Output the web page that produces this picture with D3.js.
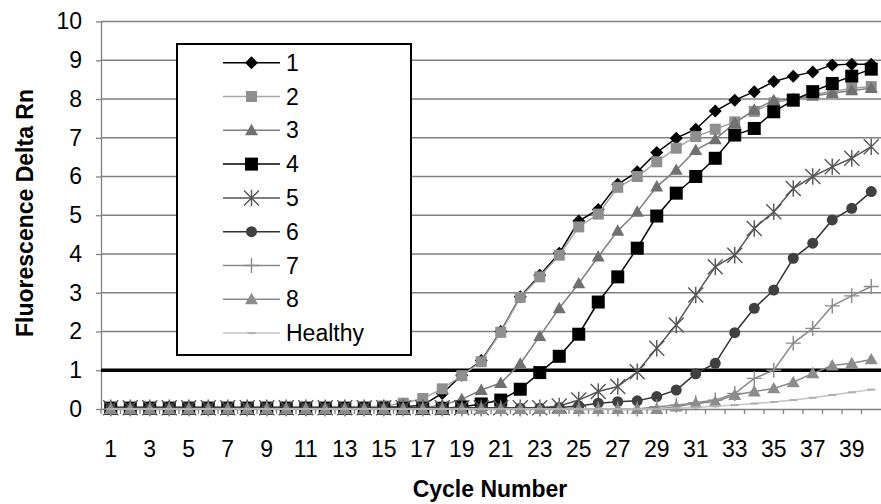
<!DOCTYPE html>
<html>
<head>
<meta charset="utf-8">
<script src="https://cdn.jsdelivr.net/npm/d3@7"></script>
<style>
  body { margin: 0; background: #fff; }
  svg { display: block; font-family: "Liberation Sans", Arial, sans-serif; }
</style>
</head>
<body>
<svg id="chart" width="881" height="504"></svg>
<script>
// cycle numbers on the x axis
var cycles = [1,2,3,4,5,6,7,8,9,10,11,12,13,14,15,16,17,18,19,20,
              21,22,23,24,25,26,27,28,29,30,31,32,33,34,35,36,37,38,39,40];

var yTicks = [0,1,2,3,4,5,6,7,8,9,10];
var threshold = 1;

// fluorescence values, cycles 1..40
var s1 = [0.05,0.05,0.05,0.05,0.05,0.05,0.05,0.05,0.05,0.05,0.05,0.05,0.05,0.05,0.05,0.05,0.1,0.4,0.87,1.25,
          2.0,2.9,3.45,4.02,4.85,5.15,5.8,6.12,6.62,6.99,7.22,7.69,7.97,8.19,8.45,8.59,8.7,8.88,8.9,8.9];
var s2 = [0.05,0.05,0.05,0.05,0.05,0.05,0.05,0.05,0.05,0.05,0.05,0.05,0.05,0.05,0.08,0.15,0.27,0.52,0.86,1.22,
          1.98,2.88,3.41,3.97,4.7,5.03,5.72,6.0,6.38,6.73,7.03,7.22,7.41,7.68,7.9,8.0,8.12,8.19,8.28,8.32];
var s3 = [0.04,0.04,0.04,0.04,0.04,0.04,0.04,0.04,0.04,0.04,0.04,0.04,0.04,0.04,0.04,0.04,0.04,0.1,0.25,0.49,
          0.67,1.17,1.88,2.6,3.24,3.93,4.6,5.09,5.74,6.17,6.68,6.96,7.38,7.72,7.97,8.0,8.08,8.15,8.22,8.28];
var s4 = [0.02,0.02,0.02,0.02,0.02,0.02,0.02,0.02,0.02,0.02,0.02,0.02,0.02,0.02,0.02,0.02,0.02,0.02,0.05,0.13,
          0.23,0.51,0.94,1.36,1.93,2.76,3.41,4.15,4.98,5.57,6.0,6.47,7.07,7.24,7.67,7.97,8.19,8.4,8.59,8.77];
var s5 = [0.03,0.03,0.03,0.03,0.03,0.03,0.03,0.03,0.03,0.03,0.03,0.03,0.03,0.03,0.03,0.03,0.03,0.03,0.03,0.03,
          0.03,0.03,0.03,0.08,0.23,0.45,0.58,0.96,1.57,2.17,2.94,3.67,3.97,4.66,5.09,5.69,6.0,6.25,6.47,6.77];
var s6 = [0.02,0.02,0.02,0.02,0.02,0.02,0.02,0.02,0.02,0.02,0.02,0.02,0.02,0.02,0.02,0.02,0.02,0.02,0.02,0.02,
          0.02,0.02,0.02,0.04,0.08,0.15,0.19,0.21,0.32,0.49,0.91,1.18,1.97,2.6,3.07,3.89,4.28,4.88,5.18,5.61];
var s7 = [0,0,0,0,0,0,0,0,0,0,0,0,0,0,0,0,0,0,0,0,
          0,0,0,0,0,0,0,0,0.06,0.1,0.16,0.23,0.4,0.79,1.0,1.7,2.08,2.66,2.92,3.16];
var s8 = [0,0,0,0,0,0,0,0,0,0,0,0,0,0,0,0,0,0,0,0,
          0,0,0,0,0,0,0,0,0,0.06,0.15,0.19,0.36,0.45,0.53,0.69,0.92,1.12,1.18,1.28];
var healthy = [0,0,0,0,0,0,0,0,0,0,0,0,0,0,0,0,0,0,0,0,
               0,0,0,0,0,0,0,0,0,0.02,0.04,0.07,0.1,0.14,0.18,0.23,0.29,0.36,0.43,0.5];

var seriesNames = ["1","2","3","4","5","6","7","8","Healthy"];
var seriesValues = [s1, s2, s3, s4, s5, s6, s7, s8, healthy];

// look of each series, same order as the names
var styles = [
  { line: "#000",    mark: "#000",    shape: "diamond",  r: 6.5 },
  { line: "#a6a6a6", mark: "#8f8f8f", shape: "square",   r: 5.5 },
  { line: "#7f7f7f", mark: "#707070", shape: "triangle", r: 6.5 },
  { line: "#000",    mark: "#000",    shape: "square",   r: 6.5 },
  { line: "#555",    mark: "#555",    shape: "star",     r: 7.5 },
  { line: "#333",    mark: "#404040", shape: "circle",   r: 5.5 },
  { line: "#8a8a8a", mark: "#8a8a8a", shape: "plus",     r: 7.5 },
  { line: "#8a8a8a", mark: "#8c8c8c", shape: "triangle", r: 6.5 },
  { line: "#c4c4c4", mark: "#b0b0b0", shape: "dash",     r: 4 }
];

function markerPath (shape, r) {
  if (shape === "diamond") return "M0," + (-r) + "L" + r + ",0L0," + r + "L" + (-r) + ",0Z";
  if (shape === "square") return "M" + (-r) + "," + (-r) + "h" + (2*r) + "v" + (2*r) + "h" + (-2*r) + "Z";
  if (shape === "triangle") return "M0," + (-r) + "L" + r + "," + (r*0.75) + "L" + (-r) + "," + (r*0.75) + "Z";
  if (shape === "circle") return d3.symbol(d3.symbolCircle, Math.PI*r*r)();
  if (shape === "star") return "M" + (-r) + "," + (-r) + "L" + r + "," + r + "M" + (-r) + "," + r + "L" + r + "," + (-r) +
                               "M0," + (-r*1.1) + "L0," + (r*1.1);
  if (shape === "plus") return "M" + (-r) + ",0L" + r + ",0M0," + (-r) + "L0," + r;
  return "M" + (-r) + ",0L" + r + ",0";
}

function isStroked (shape) { return shape === "star" || shape === "plus" || shape === "dash"; }

var svg = d3.select("#chart");

var x = d3.scaleBand().domain(cycles).range([101, 881]).padding(0);
var y = d3.scaleLinear().domain([0, 10]).range([409, 21.5]);

// horizontal gridlines
svg.append("g")
  .selectAll("line")
  .data(yTicks.slice(1))
  .enter()
  .append("line")
    .attr("x1", 101)
    .attr("x2", 881)
    .attr("y1", function (d) { return y(d); })
    .attr("y2", function (d) { return y(d); })
    .attr("stroke", "#808080")
    .attr("stroke-width", 1.3);

// y axis
var yAxis = svg.append("g")
  .attr("transform", "translate(101,0)")
  .call(d3.axisLeft(y).tickValues(yTicks).tickSize(5).tickPadding(14).tickSizeOuter(0));
yAxis.select(".domain").attr("stroke", "#808080").attr("stroke-width", 1.3);
yAxis.selectAll(".tick line").attr("stroke", "#808080").attr("stroke-width", 1.3);
yAxis.selectAll(".tick text")
  .attr("font-size", 23)
  .attr("fill", "#000")
  .attr("font-family", "Liberation Sans, Arial, sans-serif");

// x axis: labels on odd cycles, ticks on the band edges
var xAxis = svg.append("g")
  .attr("transform", "translate(0,409)")
  .call(d3.axisBottom(x)
    .tickValues(cycles.filter(function (d) { return d % 2 === 1; }))
    .tickSize(0).tickPadding(32).tickSizeOuter(0));
xAxis.select(".domain").attr("stroke", "#808080").attr("stroke-width", 1.3);
xAxis.selectAll(".tick text")
  .attr("font-size", 23)
  .attr("fill", "#000")
  .attr("font-family", "Liberation Sans, Arial, sans-serif");

svg.append("g")
  .selectAll("line")
  .data(cycles)
  .enter()
  .append("line")
    .attr("x1", function (d) { return x(d); })
    .attr("x2", function (d) { return x(d); })
    .attr("y1", 409)
    .attr("y2", 414)
    .attr("stroke", "#808080")
    .attr("stroke-width", 1.3);

// threshold line
svg.append("line")
  .attr("x1", 101)
  .attr("x2", 881)
  .attr("y1", y(threshold))
  .attr("y2", y(threshold))
  .attr("stroke", "#000")
  .attr("stroke-width", 3.5);

// series
var line = d3.line()
  .x(function (d, i) { return x(cycles[i]) + x.bandwidth() / 2; })
  .y(function (d) { return y(d); });

seriesValues.forEach(function (vals, k) {
  var st = styles[k];
  var g = svg.append("g").attr("class", "series");
  g.append("path")
    .attr("d", line(vals))
    .attr("fill", "none")
    .attr("stroke", st.line)
    .attr("stroke-width", 1.5);
  g.selectAll("path.mark")
    .data(vals)
    .enter()
    .append("path")
      .attr("class", "mark")
      .attr("transform", function (d, i) {
        return "translate(" + (x(cycles[i]) + x.bandwidth() / 2) + "," + y(d) + ")";
      })
      .attr("d", markerPath(st.shape, st.r))
      .attr("fill", isStroked(st.shape) ? "none" : st.mark)
      .attr("stroke", isStroked(st.shape) ? st.mark : "none")
      .attr("stroke-width", st.shape === "dash" ? 2 : 1.4);
});

// legend
var legend = svg.append("g");
legend.append("rect")
  .attr("x", 177)
  .attr("y", 44)
  .attr("width", 234)
  .attr("height", 311)
  .attr("fill", "#fff")
  .attr("stroke", "#000")
  .attr("stroke-width", 2);

var items = legend.selectAll("g.item")
  .data(seriesNames)
  .enter()
  .append("g")
    .attr("class", "item")
    .attr("transform", function (d, i) { return "translate(0," + (62.7 + i * 33.8) + ")"; });

items.append("line")
  .attr("x1", 223)
  .attr("x2", 280)
  .attr("stroke", function (d, i) { return styles[i].line; })
  .attr("stroke-width", 1.5);

items.append("path")
  .attr("transform", "translate(251.5,0)")
  .attr("d", function (d, i) { return markerPath(styles[i].shape, styles[i].r); })
  .attr("fill", function (d, i) { return isStroked(styles[i].shape) ? "none" : styles[i].mark; })
  .attr("stroke", function (d, i) { return isStroked(styles[i].shape) ? styles[i].mark : "none"; })
  .attr("stroke-width", function (d, i) { return styles[i].shape === "dash" ? 2 : 1.4; });

items.append("text")
  .attr("x", 286)
  .attr("dy", "0.35em")
  .attr("font-size", 23)
  .text(function (d) { return d; });

// axis titles
svg.append("text")
  .attr("transform", "translate(33,213) rotate(-90)")
  .attr("text-anchor", "middle")
  .attr("font-size", 23)
  .attr("font-weight", "bold")
  .text("Fluorescence Delta Rn");

svg.append("text")
  .attr("x", 490)
  .attr("y", 497)
  .attr("text-anchor", "middle")
  .attr("font-size", 23)
  .attr("font-weight", "bold")
  .text("Cycle Number");
</script>
</body>
</html>
